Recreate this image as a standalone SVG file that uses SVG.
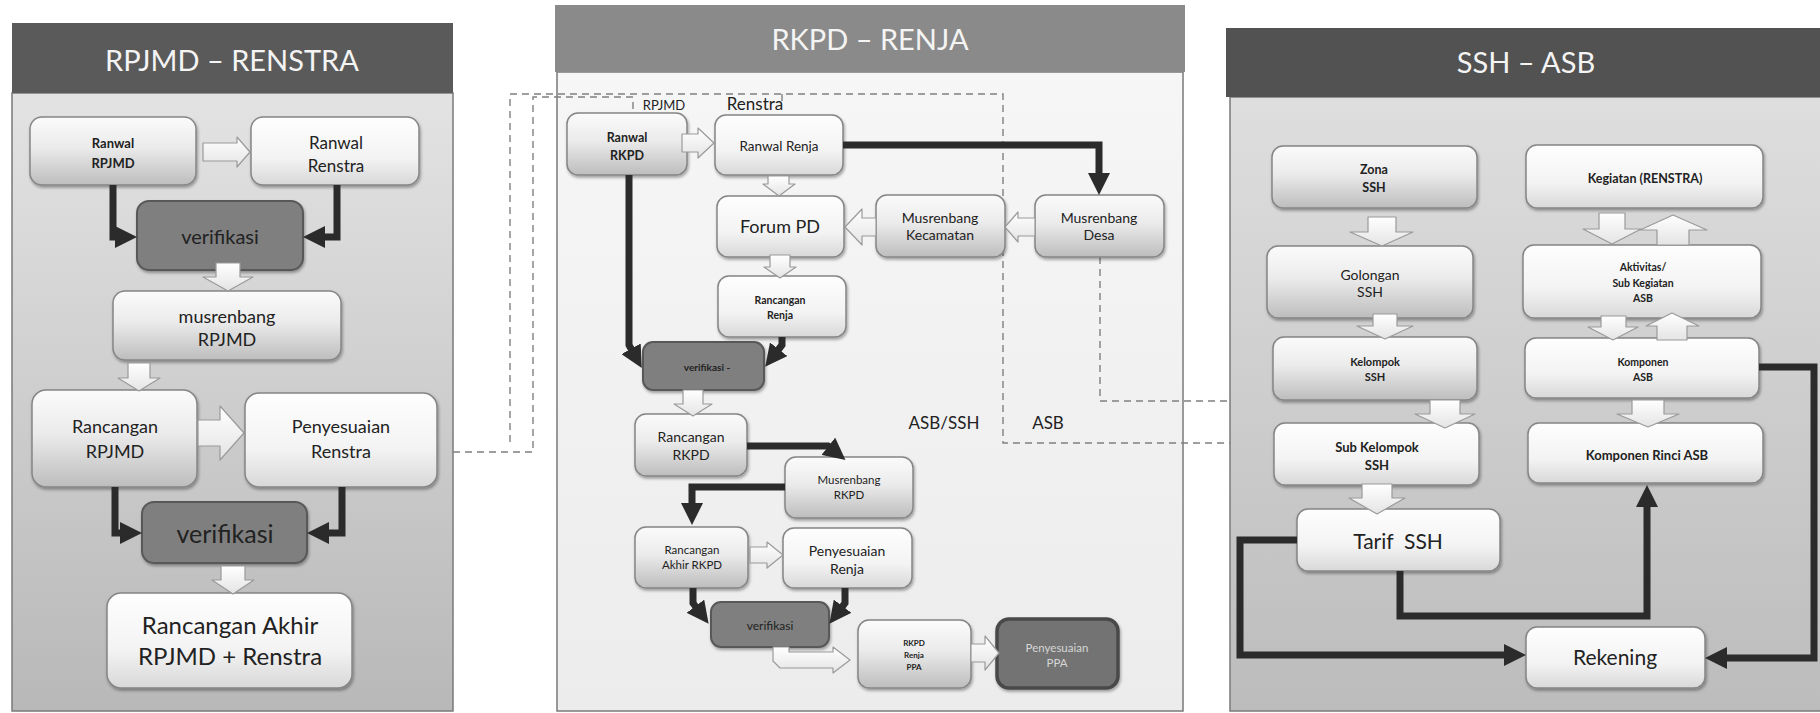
<svg xmlns="http://www.w3.org/2000/svg" width="1820" height="713" viewBox="0 0 1820 713">
<defs>
<linearGradient id="gP1" x1="0" y1="0" x2="0" y2="1"><stop offset="0" stop-color="#e3e3e3"/><stop offset="1" stop-color="#b8b8b8"/></linearGradient>
<linearGradient id="gP2" x1="0" y1="0" x2="0" y2="1"><stop offset="0" stop-color="#f6f6f6"/><stop offset="1" stop-color="#ececec"/></linearGradient>
<linearGradient id="gP3" x1="0" y1="0" x2="0" y2="1"><stop offset="0" stop-color="#dedede"/><stop offset="1" stop-color="#bcbcbc"/></linearGradient>
<linearGradient id="gN" x1="0" y1="0" x2="0" y2="1"><stop offset="0" stop-color="#fbfbfb"/><stop offset="0.45" stop-color="#ebebeb"/><stop offset="1" stop-color="#bdbdbd"/></linearGradient>
<linearGradient id="gNL" x1="0" y1="0" x2="0" y2="1"><stop offset="0" stop-color="#fefefe"/><stop offset="0.6" stop-color="#f3f3f3"/><stop offset="1" stop-color="#d8d8d8"/></linearGradient>
<linearGradient id="gA" x1="0" y1="0" x2="0" y2="1"><stop offset="0" stop-color="#ffffff"/><stop offset="1" stop-color="#e4e4e4"/></linearGradient>
<filter id="sh" x="-10%" y="-10%" width="120%" height="130%"><feDropShadow dx="1" dy="2" stdDeviation="1.5" flood-color="#000" flood-opacity="0.35"/></filter>
<marker id="ah" viewBox="0 0 22 22" markerWidth="22" markerHeight="22" markerUnits="userSpaceOnUse" refX="6" refY="11" orient="auto"><path d="M0,0 L22,11 L0,22 z" fill="#2b2b2b"/></marker>
<style>
text{font-family:Lato,"Liberation Sans",sans-serif;fill:#222222;text-anchor:middle}
.b{font-weight:bold}
.ttl{font-size:29px;fill:#f4f4f4}
.n{fill:url(#gN);stroke:#858585;stroke-width:1.5;filter:url(#sh)}
.nl{fill:url(#gNL);stroke:#858585;stroke-width:1.5;filter:url(#sh)}
.d{fill:#7f7f7f;stroke:#595959;stroke-width:2;filter:url(#sh)}
.pb{stroke:#7a7a7a;stroke-width:1.5}
.hd{stroke:none}
.wa{fill:url(#gA);stroke:#9a9a9a;stroke-width:1.2;stroke-linejoin:round}
.bk{fill:none;stroke:#2b2b2b;stroke-width:7;marker-end:url(#ah)}
.ds{fill:none;stroke:#808080;stroke-width:1.4;stroke-dasharray:7 5}
</style>
</defs>
<rect x="0" y="0" width="1820" height="713" fill="#ffffff"/>

<g id="panel-rpjmd">
<rect class="pb" x="12" y="93" width="441" height="618" fill="url(#gP1)"/>
<rect class="hd" x="12" y="23" width="441" height="70" fill="#5a5a5a"/>
<text class="ttl" x="232" y="71">RPJMD – RENSTRA</text>
</g>
<g id="panel-rkpd">
<rect class="pb" x="557" y="72" width="626" height="639" fill="url(#gP2)"/>
<rect class="hd" x="555" y="5" width="630" height="67" fill="#8a8a8a"/>
<text class="ttl" x="870" y="50">RKPD – RENJA</text>
</g>
<g id="panel-ssh">
<rect class="pb" x="1230" y="97" width="592" height="614" fill="url(#gP3)"/>
<rect class="hd" x="1226" y="28" width="596" height="69" fill="#525252"/>
<text class="ttl" x="1526" y="73">SSH – ASB</text>
</g>

<g id="guides">
<path class="ds" d="M453,452 H533 V97 H633 V112"/>
<path class="ds" d="M510,442 V94 H1003 V443 H1230"/>
<path class="ds" d="M782,94 V104"/>
<path class="ds" d="M1100,257 V401 H1230"/>
<text x="944" y="429" style="font-size:17px">ASB/SSH</text>
<text x="1048" y="429" style="font-size:17px">ASB</text>
<text x="664" y="110" style="font-size:13px">RPJMD</text>
<text x="755" y="110" style="font-size:17px">Renstra</text>
</g>

<!-- Panel 1 nodes -->
<g id="n-ranwal-rpjmd"><rect class="n" x="30" y="117" width="166" height="68" rx="12"/><text class="b" x="113" y="148" style="font-size:13px">Ranwal</text><text class="b" x="113" y="168" style="font-size:13px">RPJMD</text></g>
<g id="n-ranwal-renstra"><rect class="nl" x="251" y="117" width="168" height="68" rx="12"/><text x="336" y="149" style="font-size:17px">Ranwal</text><text x="336" y="172" style="font-size:17px">Renstra</text></g>
<g id="n-verifikasi-1"><rect class="d" x="137" y="201" width="166" height="69" rx="12"/><text x="220" y="244" style="font-size:20px">verifikasi</text></g>
<g id="n-musrenbang-rpjmd"><rect class="n" x="113" y="291" width="228" height="69" rx="12"/><text x="227" y="323" style="font-size:18px">musrenbang</text><text x="227" y="346" style="font-size:18px">RPJMD</text></g>
<g id="n-rancangan-rpjmd"><rect class="n" x="32" y="390" width="165" height="97" rx="14"/><text x="115" y="433" style="font-size:18px">Rancangan</text><text x="115" y="458" style="font-size:18px">RPJMD</text></g>
<g id="n-penyesuaian-renstra"><rect class="nl" x="245" y="393" width="192" height="94" rx="14"/><text x="341" y="433" style="font-size:18px">Penyesuaian</text><text x="341" y="458" style="font-size:18px">Renstra</text></g>
<g id="n-verifikasi-2"><rect class="d" x="142" y="502" width="165" height="61" rx="12"/><text x="225" y="543" style="font-size:25px">verifikasi</text></g>
<g id="n-rancangan-akhir"><rect class="nl" x="107" y="593" width="245" height="95" rx="14"/><text x="230" y="634" style="font-size:24px">Rancangan Akhir</text><text x="230" y="665" style="font-size:24px">RPJMD + Renstra</text></g>

<!-- Panel 2 nodes -->
<g id="n-ranwal-rkpd"><rect class="n" x="567" y="113" width="120" height="62" rx="11"/><text class="b" x="627" y="142" style="font-size:12.5px">Ranwal</text><text class="b" x="627" y="160" style="font-size:12.5px">RKPD</text></g>
<g id="n-ranwal-renja"><rect class="nl" x="715" y="115" width="128" height="60" rx="11"/><text x="779" y="151" style="font-size:13.5px">Ranwal Renja</text></g>
<g id="n-forum-pd"><rect class="nl" x="717" y="196" width="127" height="61" rx="11"/><text x="780" y="233" style="font-size:18px">Forum PD</text></g>
<g id="n-musrenbang-kecamatan"><rect class="n" x="876" y="195" width="129" height="62" rx="11"/><text x="940" y="223" style="font-size:14px">Musrenbang</text><text x="940" y="240" style="font-size:14px">Kecamatan</text></g>
<g id="n-musrenbang-desa"><rect class="n" x="1035" y="195" width="129" height="62" rx="11"/><text x="1099" y="223" style="font-size:14px">Musrenbang</text><text x="1099" y="240" style="font-size:14px">Desa</text></g>
<g id="n-rancangan-renja"><rect class="nl" x="718" y="276" width="128" height="61" rx="11"/><text class="b" x="780" y="304" style="font-size:10.5px">Rancangan</text><text class="b" x="780" y="319" style="font-size:10.5px">Renja</text></g>
<g id="n-verifikasi-3"><rect class="d" x="643" y="342" width="121" height="48" rx="10"/><text class="b" x="707" y="371" style="font-size:10px">verifikasi -</text></g>
<g id="n-rancangan-rkpd"><rect class="n" x="635" y="414" width="112" height="62" rx="11"/><text x="691" y="442" style="font-size:14px">Rancangan</text><text x="691" y="460" style="font-size:14px">RKPD</text></g>
<g id="n-musrenbang-rkpd"><rect class="n" x="785" y="457" width="128" height="61" rx="11"/><text x="849" y="484" style="font-size:11.5px">Musrenbang</text><text x="849" y="499" style="font-size:11.5px">RKPD</text></g>
<g id="n-rancangan-akhir-rkpd"><rect class="n" x="635" y="527" width="113" height="61" rx="11"/><text x="692" y="554" style="font-size:11.5px">Rancangan</text><text x="692" y="569" style="font-size:11.5px">Akhir RKPD</text></g>
<g id="n-penyesuaian-renja"><rect class="nl" x="783" y="528" width="129" height="60" rx="11"/><text x="847" y="556" style="font-size:14px">Penyesuaian</text><text x="847" y="574" style="font-size:14px">Renja</text></g>
<g id="n-verifikasi-4"><rect class="d" x="711" y="602" width="118" height="45" rx="10"/><text x="770" y="630" style="font-size:12px">verifikasi</text></g>
<g id="n-rkpd-renja-ppa"><rect class="n" x="858" y="620" width="113" height="68" rx="11"/><text class="b" x="914" y="646" style="font-size:8px">RKPD</text><text class="b" x="914" y="658" style="font-size:8px">Renja</text><text class="b" x="914" y="670" style="font-size:8px">PPA</text></g>
<g id="n-penyesuaian-ppa"><rect x="997" y="619" width="121" height="69" rx="12" fill="#737373" stroke="#4a4a4a" stroke-width="3.5" filter="url(#sh)"/><text x="1057" y="652" style="font-size:11.5px;fill:#d6d6d6">Penyesuaian</text><text x="1057" y="667" style="font-size:11.5px;fill:#d6d6d6">PPA</text></g>

<!-- Panel 3 nodes -->
<g id="n-zona-ssh"><rect class="n" x="1272" y="146" width="205" height="62" rx="11"/><text class="b" x="1374" y="174" style="font-size:12.5px">Zona</text><text class="b" x="1374" y="192" style="font-size:12.5px">SSH</text></g>
<g id="n-golongan-ssh"><rect class="n" x="1267" y="246" width="206" height="72" rx="11"/><text x="1370" y="280" style="font-size:14px">Golongan</text><text x="1370" y="297" style="font-size:14px">SSH</text></g>
<g id="n-kelompok-ssh"><rect class="n" x="1273" y="337" width="204" height="63" rx="11"/><text class="b" x="1375" y="366" style="font-size:11px">Kelompok</text><text class="b" x="1375" y="381" style="font-size:11px">SSH</text></g>
<g id="n-sub-kelompok-ssh"><rect class="nl" x="1274" y="423" width="205" height="62" rx="11"/><text class="b" x="1377" y="452" style="font-size:13px">Sub Kelompok</text><text class="b" x="1377" y="470" style="font-size:13px">SSH</text></g>
<g id="n-tarif-ssh"><rect class="nl" x="1297" y="509" width="203" height="62" rx="11"/><text x="1398" y="549" style="font-size:21px" xml:space="preserve">Tarif  SSH</text></g>
<g id="n-rekening"><rect class="nl" x="1526" y="627" width="179" height="61" rx="11"/><text x="1615" y="665" style="font-size:21px">Rekening</text></g>
<g id="n-kegiatan"><rect class="nl" x="1526" y="145" width="237" height="63" rx="11"/><text class="b" x="1645" y="182.5" style="font-size:12.5px">Kegiatan (RENSTRA)</text></g>
<g id="n-aktivitas"><rect class="nl" x="1523" y="245" width="238" height="73" rx="11"/><text class="b" x="1643" y="271" style="font-size:10.5px">Aktivitas/</text><text class="b" x="1643" y="287" style="font-size:10.5px">Sub Kegiatan</text><text class="b" x="1643" y="302" style="font-size:10.5px">ASB</text></g>
<g id="n-komponen-asb"><rect class="nl" x="1525" y="338" width="234" height="60" rx="11"/><text class="b" x="1643" y="366" style="font-size:10.5px">Komponen</text><text class="b" x="1643" y="381" style="font-size:10.5px">ASB</text></g>
<g id="n-komponen-rinci"><rect class="nl" x="1528" y="423" width="235" height="60" rx="11"/><text class="b" x="1647" y="460" style="font-size:13px">Komponen Rinci ASB</text></g>

<g id="connectors">
<!-- panel 1 -->
<polygon class="wa" points="203,143 237,143 237,137 250,152 237,167 237,161 203,161"/>
<polygon class="wa" points="216,263 240,263 240,277 253,277 228,291 203,277 216,277"/>
<polygon class="wa" points="128,363 150,363 150,378 160,378 139,391 118,378 128,378"/>
<polygon class="wa" points="198,420 220,420 220,406 244,433 220,460 220,446 198,446"/>
<polygon class="wa" points="221,566 245,566 245,580 254,580 233,594 212,580 221,580"/>
<path class="bk" d="M113,185 V237 H121"/>
<path class="bk" d="M337,185 V237 H319"/>
<path class="bk" d="M115,487 V533 H126"/>
<path class="bk" d="M342,487 V533 H323"/>
<!-- panel 2 -->
<polygon class="wa" points="682,134 698,134 698,128 714,143 698,158 698,152 682,152"/>
<polygon class="wa" points="768,176 789,176 789,184 795,184 779,196 763,184 768,184"/>
<polygon class="wa" points="876,218 862,218 862,209 845,227 862,245 862,236 876,236"/>
<polygon class="wa" points="1035,218 1018,218 1018,212 1005,227 1018,242 1018,236 1035,236"/>
<polygon class="wa" points="770,255 790,255 790,267 796,267 780,278 764,267 770,267"/>
<polygon class="wa" points="683,390 703,390 703,404 712,404 693,416 674,404 683,404"/>
<polygon class="wa" points="750,547 767,547 767,542 783,555 767,568 767,563 750,563"/>
<polygon class="wa" points="773,647 789,647 789,652 833,652 833,647 850,660 833,673 833,668 780,668 773,661"/>
<polygon class="wa" points="971,644 985,644 985,636 999,653 985,670 985,662 971,662"/>
<path class="bk" d="M843,145 H1099 V179"/>
<path class="bk" d="M629,175 V345 L634,354"/>
<path class="bk" d="M782,337 V345 L775,354"/>
<path class="bk" d="M747,446 H828 L833,450"/>
<path class="bk" d="M785,487 H692 V509"/>
<path class="bk" d="M693,588 V603 L699,611"/>
<path class="bk" d="M845,588 V603 L839,611"/>
<!-- panel 3 -->
<polygon class="wa" points="1368,217 1396,217 1396,232 1413,232 1382,246 1350,232 1368,232"/>
<polygon class="wa" points="1373,314 1397,314 1397,326 1413,326 1385,339 1357,326 1373,326"/>
<polygon class="wa" points="1430,400 1460,400 1460,414 1475,414 1445,428 1415,414 1430,414"/>
<polygon class="wa" points="1362,484 1392,484 1392,498 1405,498 1377,514 1349,498 1362,498"/>
<polygon class="wa" points="1599,213 1625,213 1625,229 1641,229 1612,244 1583,229 1599,229"/>
<polygon class="wa" points="1657,245 1689,245 1689,230 1707,230 1673,215 1640,230 1657,230"/>
<polygon class="wa" points="1601,316 1626,316 1626,327 1638,327 1613,340 1588,327 1601,327"/>
<polygon class="wa" points="1657,340 1687,340 1687,326 1699,326 1672,313 1646,326 1657,326"/>
<polygon class="wa" points="1632,400 1664,400 1664,414 1679,414 1648,427 1617,414 1632,414"/>
<path class="bk" d="M1297,540 H1240 V655 H1510"/>
<path class="bk" d="M1400,571 V616 H1647 V501"/>
<path class="bk" d="M1759,367 H1814 V658 H1721"/>
</g>
</svg>
